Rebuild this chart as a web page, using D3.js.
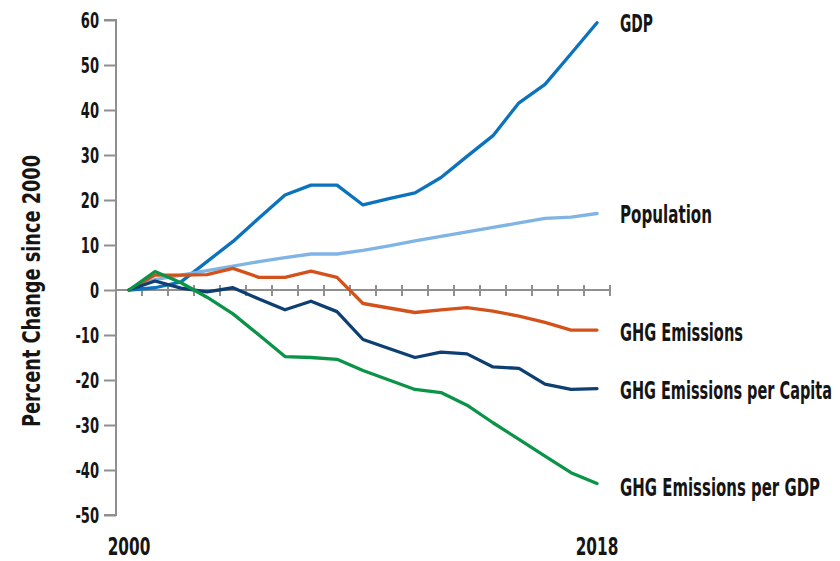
<!DOCTYPE html>
<html>
<head>
<meta charset="utf-8">
<script src="https://cdn.jsdelivr.net/npm/d3@7/dist/d3.min.js"></script>
<style>
  html, body { margin: 0; padding: 0; background: #fff; }
  svg text { font-family: "DejaVu Sans Condensed", "DejaVu Sans", sans-serif; font-stretch: condensed; font-weight: bold; fill: #151515; }
</style>
</head>
<body>
<svg id="chart" width="840" height="561"></svg>
<script>
const years = d3.range(2000, 2019);
const gdp        = [0, 0.5, 1.8, 6.3, 10.8, 16.0, 21.1, 23.3, 23.3, 18.9, 20.3, 21.6, 25.0, 29.7, 34.3, 41.6, 45.7, 52.5, 59.4];
const population = [0, 2.3, 3.3, 4.3, 5.3, 6.3, 7.2, 8.0, 8.0, 8.8, 9.8, 10.9, 11.9, 12.9, 13.9, 14.9, 15.9, 16.2, 17.0];
const ghg        = [0, 3.3, 3.3, 3.4, 4.8, 2.8, 2.8, 4.2, 2.8, -3.0, -4.0, -5.0, -4.4, -3.9, -4.7, -5.8, -7.2, -8.9, -8.9];
const ghgCapita  = [0, 2.0, 0.4, -0.4, 0.5, -2.0, -4.4, -2.5, -4.8, -11.0, -13.0, -15.0, -13.8, -14.2, -17.1, -17.4, -20.9, -22.1, -21.9];
const ghgGdp     = [0, 4.1, 1.6, -1.6, -5.3, -10.0, -14.8, -15.0, -15.4, -17.9, -20.0, -22.1, -22.8, -25.6, -29.5, -33.2, -36.9, -40.6, -43.0];
const seriesNames  = ["GDP", "Population", "GHG Emissions", "GHG Emissions per Capita", "GHG Emissions per GDP"];
const seriesValues = [gdp, population, ghg, ghgCapita, ghgGdp];
const seriesColors = ["#0b72bd", "#80b4e4", "#d3521c", "#0e3f72", "#0a9448"];
const labelY       = [59.4, 17.0, -9.4, -22.3, -43.7];
const labelWidths  = [33, 92, 123, 212, 200];
const yTicks = [60, 50, 40, 30, 20, 10, 0, -10, -20, -30, -40, -50];
const xLabels = [2000, 2018];
const yTitle = "Percent Change since 2000";

const svg = d3.select("#chart");
const x = d3.scaleBand().domain(years).range([116, 610]);
const xc = yr => x(yr) + x.bandwidth() / 2;
const y = d3.scaleLinear().domain([-50, 60]).range([515, 20]);

const axisColor = "#8f8f8f";
function squeeze(sel, factor) {
  sel.each(function () {
    const w = this.getComputedTextLength();
    d3.select(this).attr("textLength", w * factor).attr("lengthAdjust", "spacingAndGlyphs");
  });
}

// Y axis
const yAxis = d3.axisLeft(y).tickValues(yTicks).tickSize(12).tickPadding(5).tickFormat(d => String(d));
const gy = svg.append("g").attr("transform", "translate(116,0)").call(yAxis);
gy.select(".domain").attr("stroke", axisColor).attr("stroke-width", 2).attr("d", `M-12,${y(60)}H0V${y(-50)}H-12`);
gy.selectAll(".tick line").attr("stroke", axisColor).attr("stroke-width", 2);
gy.selectAll(".tick text").attr("font-size", 22).attr("fill", "#151515").attr("dy", "0.36em")
  .style("font-family", '"DejaVu Sans Condensed", "DejaVu Sans", sans-serif').style("font-weight", "bold");
squeeze(gy.selectAll(".tick text"), 0.66);

// X axis along zero
const gx = svg.append("g").attr("transform", `translate(0,${y(0)})`);
gx.append("line").attr("x1", 116).attr("x2", 610).attr("y1", 0).attr("y2", 0)
  .attr("stroke", axisColor).attr("stroke-width", 2);
gx.selectAll("line.tk").data(years.slice(1).map(yr => x(yr)).concat([x(2018) + x.bandwidth()]))
  .join("line").attr("class", "tk")
  .attr("x1", d => d).attr("x2", d => d).attr("y1", -5).attr("y2", 6)
  .attr("stroke", axisColor).attr("stroke-width", 2);

// X labels
const xl = svg.selectAll("text.xl").data(xLabels).join("text").attr("class", "xl")
  .attr("x", d => xc(d)).attr("y", 555).attr("text-anchor", "middle")
  .attr("font-size", 25).text(d => d);
squeeze(xl, 0.68);

// Y title
const tt = svg.append("text").attr("transform", `translate(40,291) rotate(-90)`)
  .attr("text-anchor", "middle").attr("font-size", 25).text(yTitle);
tt.attr("textLength", 272).attr("lengthAdjust", "spacingAndGlyphs");

// Lines
const line = d3.line().x((d, i) => xc(years[i])).y(d => y(d));
svg.selectAll("path.series").data(seriesValues).join("path").attr("class", "series")
  .attr("d", d => line(d)).attr("fill", "none")
  .attr("stroke", (d, i) => seriesColors[i]).attr("stroke-width", 3.3)
  .attr("stroke-linejoin", "round").attr("stroke-linecap", "round");

// Series labels
svg.selectAll("text.sl").data(seriesNames).join("text").attr("class", "sl")
  .attr("x", 620).attr("y", (d, i) => y(labelY[i]) + 9)
  .attr("font-size", 25).text(d => d)
  .attr("textLength", (d, i) => labelWidths[i]).attr("lengthAdjust", "spacingAndGlyphs");
</script>
</body>
</html>
